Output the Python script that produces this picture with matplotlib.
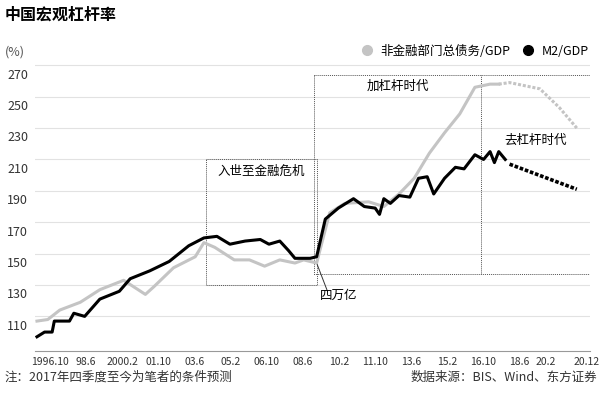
import matplotlib.pyplot as plt
from matplotlib.lines import Line2D
from matplotlib.transforms import blended_transform_factory

plt.rcParams["font.family"] = ["Noto Sans CJK SC", "DejaVu Sans"]

# 非金融部门总债务/GDP
debt_x = [1996.2, 1996.7, 1997.25, 1998.2, 1999.1, 2000.2, 2001.2, 2001.6, 2002.5, 2003.5,
          2003.9, 2004.4, 2005.3, 2006.0, 2006.7, 2007.4, 2008.1, 2008.5, 2009.1, 2009.7,
          2010.4, 2011.5, 2012.2, 2012.9, 2013.6, 2014.3, 2015.0, 2015.7, 2016.4, 2017.1, 2017.5]
debt_y = [107, 108, 114, 119, 127, 133, 124, 129, 141, 148,
          157, 154, 146, 146, 142, 146, 144, 146, 144, 176,
          182, 183, 180, 188, 198, 214, 227, 239, 256, 258, 258]
debt_fx = [2017.5, 2018.0, 2019.4, 2020.3, 2021.1]
debt_fy = [258, 259, 255, 243, 230]

# M2/GDP
m2_x = [1996.2, 1996.55, 1996.9, 1997.0, 1997.7, 1997.9, 1998.4, 1999.1, 2000.0, 2000.5,
        2001.4, 2002.3, 2003.2, 2003.9, 2004.5, 2005.1, 2005.8, 2006.5, 2006.9, 2007.4,
        2007.8, 2008.1, 2008.8, 2009.1, 2009.5, 2010.1, 2010.8, 2011.3, 2011.8, 2012.0,
        2012.2, 2012.5, 2012.9, 2013.4, 2013.8, 2014.2, 2014.5, 2015.0, 2015.5, 2015.9,
        2016.4, 2016.8, 2017.1, 2017.3, 2017.5, 2017.8]
m2_y = [97, 100, 100, 107, 107, 112, 110, 121, 126, 134,
        139, 145, 155, 160, 161, 156, 158, 159, 156, 158,
        152, 147, 147, 148, 172, 179, 185, 180, 179, 175,
        185, 182, 187, 186, 198, 199, 188, 198, 205, 204,
        213, 210, 215, 208, 215, 210]
m2_fx = [2018.0, 2021.1]
m2_fy = [207, 191]

tick_pos = [1996.79, 1998.46, 2000.13, 2001.79, 2003.46, 2005.13, 2006.79, 2008.46,
            2010.13, 2011.79, 2013.46, 2015.13, 2016.79, 2018.46, 2020.13, 2020.96]
tick_labels = ["1996.10", "98.6", "2000.2", "01.10", "03.6", "05.2", "06.10", "08.6",
               "10.2", "11.10", "13.6", "15.2", "16.10", "18.6", "20.2", "20.12"]
y_ticks = [110, 130, 150, 170, 190, 210, 230, 250, 270]

GRAY = "#c4c4c4"

fig = plt.figure(figsize=(6, 4.14), dpi=100)
ax = fig.add_axes([0.058, 0.15, 0.925, 0.705])
ax.set_xlim(1996.1, 2021.7)
ax.set_ylim(88, 274)

for v in y_ticks:
    ax.axhline(v, color="#e2e2e2", lw=0.8, zorder=0)
tr = blended_transform_factory(fig.transFigure, ax.transData)
for v in y_ticks:
    fig.text(0.012, v - 1.5, str(v), transform=tr, ha="left", va="top", fontsize=9, color="#333333")

ax.plot(debt_x, debt_y, color=GRAY, lw=2.2, zorder=3)
ax.plot(debt_fx, debt_fy, color=GRAY, lw=2.2, ls=(0, (1, 0.6)), zorder=3)
ax.plot(m2_x, m2_y, color="black", lw=2.2, zorder=4)
ax.plot(m2_fx, m2_fy, color="black", lw=2.6, ls=(0, (1, 0.5)), zorder=4)

# boxes
box = dict(color="#555555", lw=0.7, ls=(0, (1, 1)))
ax.plot([2004.0, 2009.1, 2009.1, 2004.0, 2004.0], [210, 210, 130, 130, 210], **box)
ax.plot([2009.0, 2021.7, 2021.7, 2009.0, 2009.0], [264, 264, 137, 137, 264], **box)
ax.plot([2016.7, 2016.7], [137, 264], **box)
ax.text(2006.55, 203, "入世至金融危机", ha="center", va="center", fontsize=9)
ax.text(2012.85, 257, "加杠杆时代", ha="center", va="center", fontsize=9)
ax.text(2019.2, 223, "去杠杆时代", ha="center", va="center", fontsize=9)
ax.plot([2009.1, 2009.6], [144, 126], color="#333333", lw=0.7)
ax.text(2010.1, 124, "四万亿", ha="center", va="center", fontsize=9)

for s in ["top", "left", "right"]:
    ax.spines[s].set_visible(False)
ax.spines["bottom"].set_color("#999999")
ax.set_yticks([])
ax.set_xticks(tick_pos)
ax.set_xticklabels(tick_labels, fontsize=7.5, color="#333333")
ax.get_xticklabels()[-2].set_ha("right")
ax.get_xticklabels()[-1].set_ha("left")
ax.tick_params(axis="x", length=0, pad=4)

fig.text(0.008, 0.965, "中国宏观杠杆率", fontsize=11.5, fontweight="bold", va="center")
fig.text(0.008, 0.875, "(%)", fontsize=9, color="#555555", va="center")
handles = [Line2D([], [], marker="o", ls="", color=GRAY, markersize=7),
           Line2D([], [], marker="o", ls="", color="black", markersize=7)]
fig.legend(handles, ["非金融部门总债务/GDP", "M2/GDP"], loc="center right",
           bbox_to_anchor=(1.0, 0.875), ncol=2, frameon=False, fontsize=9,
           handletextpad=0.1, columnspacing=0.4)
fig.text(0.008, 0.088, "注：2017年四季度至今为笔者的条件预测", fontsize=9, color="#333333", va="center")
fig.text(0.995, 0.088, "数据来源：BIS、Wind、东方证券", fontsize=9, color="#333333", va="center", ha="right")

fig.savefig("out.png")
